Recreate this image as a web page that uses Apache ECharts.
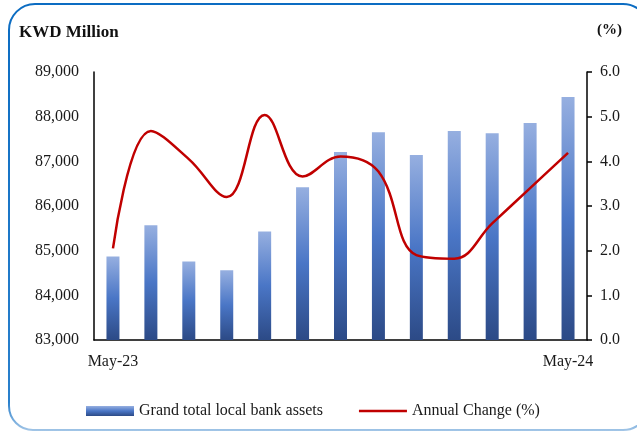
<!DOCTYPE html>
<html>
<head>
<meta charset="utf-8">
<script src="https://cdn.jsdelivr.net/npm/echarts@6/dist/echarts.min.js"></script>
<style>
html,body{margin:0;padding:0;background:#fff;overflow:hidden;}
#c{width:637px;height:432px;}
</style>
</head>
<body>
<div id="c"></div>
<script>
const categories = ['May-23','Jun-23','Jul-23','Aug-23','Sep-23','Oct-23','Nov-23','Dec-23','Jan-24','Feb-24','Mar-24','Apr-24','May-24'];
const assets = [84870, 85570, 84760, 84560, 85430, 86420, 87210, 87650, 87140, 87680, 87630, 87860, 88440];
const annualChange = [2.05, 4.68, 4.05, 3.20, 5.04, 3.66, 4.11, 3.77, 1.90, 1.82, 2.61, 3.40, 4.19];
const leftTicks = {min: 83000, max: 89000, interval: 1000};
const rightTicks = {min: 0, max: 6, interval: 1};

const font = 'Liberation Serif';
const chart = echarts.init(document.getElementById('c'));
chart.setOption({
  animation: false,
  backgroundColor: '#fff',
  textStyle: {fontFamily: font, color: '#1a1a1a'},
  graphic: [
    {type: 'rect', shape: {x: 9, y: 4, width: 640, height: 426, r: [26, 26, 26, 24]}, z: -10,
     style: {fill: 'none', lineWidth: 2,
       stroke: {type: 'linear', x: 0, y: 0, x2: 0, y2: 1,
         colorStops: [{offset: 0, color: '#0b6cc2'}, {offset: 0.93, color: '#2a80cc'}, {offset: 1, color: '#a9c9e8'}]}}},
    {type: 'text', left: 19, top: 24, style: {text: 'KWD Million', font: 'bold 17px "Liberation Serif"', fill: '#111'}},
    {type: 'text', left: 597, top: 23, style: {text: '(%)', font: 'bold 15px "Liberation Serif"', fill: '#111'}}
  ],
  grid: {left: 94, right: 50, top: 72, bottom: 92, containLabel: false},
  legend: {
    left: 81, top: 398, itemWidth: 48, itemHeight: 10, itemGap: 36,
    textStyle: {fontFamily: font, fontSize: 16, color: '#1a1a1a'},
    data: [
      {name: 'Grand total local bank assets', icon: 'rect'},
      {name: 'Annual Change (%)', icon: 'path://M0,0 L0.01,0 L0.01,0.01 Z M0,3.8 L48,3.8 L48,6.2 L0,6.2 Z M0,9.99 L0.01,9.99 L0.01,10 Z',
       itemStyle: {color: '#c00000'}}
    ]
  },
  xAxis: {
    type: 'category', data: categories,
    axisLine: {lineStyle: {color: '#000', width: 1.5}},
    axisTick: {show: false},
    axisLabel: {
      interval: 0, margin: 14, fontFamily: font, fontSize: 16, color: '#1a1a1a',
      formatter: (v, i) => (i === 0 || i === categories.length - 1) ? v : ''
    }
  },
  yAxis: [
    {type: 'value', min: leftTicks.min, max: leftTicks.max, interval: leftTicks.interval,
     axisLine: {show: true, lineStyle: {color: '#000', width: 1.5}},
     axisTick: {show: false}, splitLine: {show: false},
     axisLabel: {margin: 15, fontFamily: font, fontSize: 16, color: '#1a1a1a'}},
    {type: 'value', position: 'right', min: rightTicks.min, max: rightTicks.max, interval: rightTicks.interval,
     axisLine: {show: true, lineStyle: {color: '#000', width: 1.5}},
     axisTick: {show: true, length: 5, lineStyle: {color: '#000', width: 1.5}}, splitLine: {show: false},
     axisLabel: {margin: 13, fontFamily: font, fontSize: 16, color: '#1a1a1a', formatter: v => v.toFixed(1)}}
  ],
  series: [
    {name: 'Grand total local bank assets', type: 'bar', data: assets, barWidth: 13, yAxisIndex: 0,
     itemStyle: {color: new echarts.graphic.LinearGradient(0, 0, 0, 1, [
       {offset: 0, color: '#96afe0'}, {offset: 0.5, color: '#4a76c6'}, {offset: 1, color: '#2c4a86'}])}},
    {name: 'Annual Change (%)', type: 'line', data: annualChange, yAxisIndex: 1, smooth: 0.4,
     symbol: 'none', lineStyle: {color: '#c00000', width: 2.5}, itemStyle: {color: '#c00000'}}
  ]
});
</script>
</body>
</html>
